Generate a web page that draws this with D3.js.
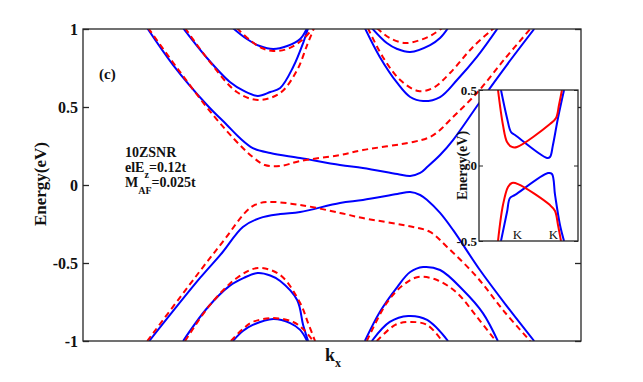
<!DOCTYPE html>
<meta charset="utf-8">
<script src="https://d3js.org/d3.v7.min.js"></script>
<style>
  body { margin: 0; background: #fff; }
  svg text { font-family: "Liberation Serif", "Times New Roman", serif; }
</style>
<div id="chart"></div>
<script>

// ---- main panel: [kx, E] pairs, kx on a 0..1 scale ----
var blueEdgeUp = [[0.129,1.006],[0.181,0.769],[0.249,0.513],[0.289,0.385],[0.315,0.301],[0.341,0.237],[0.376,0.205],[0.436,0.173],[0.516,0.128],[0.562,0.109],[0.631,0.071],[0.657,0.058],[0.677,0.077],[0.691,0.115],[0.717,0.192],[0.743,0.288],[0.797,0.532],[0.851,0.769],[0.906,1.0]];
var redEdgeUp  = [[0.131,1.006],[0.189,0.750],[0.261,0.449],[0.315,0.256],[0.341,0.179],[0.365,0.128],[0.396,0.122],[0.436,0.154],[0.516,0.192],[0.562,0.224],[0.663,0.276],[0.697,0.308],[0.717,0.353],[0.737,0.417],[0.791,0.590],[0.845,0.801],[0.898,1.0]];
var blueEdgeDn = [[0.133,-1.0],[0.235,-0.596],[0.279,-0.436],[0.321,-0.269],[0.355,-0.212],[0.396,-0.186],[0.436,-0.173],[0.516,-0.115],[0.562,-0.096],[0.631,-0.058],[0.657,-0.045],[0.677,-0.064],[0.691,-0.096],[0.717,-0.179],[0.743,-0.288],[0.797,-0.545],[0.851,-0.776],[0.906,-1.0]];
var redEdgeDn  = [[0.129,-1.0],[0.241,-0.526],[0.285,-0.346],[0.325,-0.179],[0.345,-0.128],[0.369,-0.109],[0.436,-0.128],[0.516,-0.179],[0.562,-0.212],[0.663,-0.269],[0.697,-0.301],[0.731,-0.397],[0.791,-0.590],[0.845,-0.808],[0.898,-1.0]];

// left valley
var blueC2L = [[0.201,1.006],[0.249,0.814],[0.295,0.660],[0.323,0.603],[0.351,0.571],[0.376,0.596],[0.396,0.622],[0.422,0.756],[0.442,0.910],[0.452,1.006]];
var redC2L  = [[0.205,1.006],[0.255,0.788],[0.309,0.596],[0.351,0.545],[0.396,0.590],[0.430,0.737],[0.450,0.897],[0.464,1.006]];
var blueC3L = [[0.301,1.006],[0.329,0.936],[0.355,0.891],[0.382,0.872],[0.410,0.891],[0.436,0.936],[0.450,1.006]];
var redC3L  = [[0.309,1.006],[0.335,0.929],[0.359,0.878],[0.382,0.859],[0.410,0.872],[0.440,0.929],[0.462,1.006]];
var blueV2L = [[0.201,-1.0],[0.249,-0.790],[0.295,-0.645],[0.323,-0.595],[0.351,-0.564],[0.376,-0.580],[0.396,-0.615],[0.430,-0.737],[0.442,-0.897],[0.452,-1.0]];
var redV2L  = [[0.205,-1.0],[0.255,-0.769],[0.309,-0.596],[0.351,-0.532],[0.396,-0.577],[0.436,-0.756],[0.452,-0.885],[0.466,-1.0]];
var blueV3L = [[0.301,-1.0],[0.321,-0.936],[0.341,-0.897],[0.382,-0.859],[0.416,-0.885],[0.436,-0.929],[0.450,-1.0]];
var redV3L  = [[0.297,-1.0],[0.321,-0.923],[0.341,-0.878],[0.382,-0.853],[0.422,-0.878],[0.442,-0.923],[0.462,-1.0]];

// right valley
var blueC2R = [[0.566,1.006],[0.596,0.821],[0.631,0.654],[0.657,0.564],[0.683,0.538],[0.717,0.564],[0.751,0.673],[0.791,0.821],[0.833,1.006]];
var redC2R  = [[0.572,1.006],[0.602,0.821],[0.637,0.673],[0.673,0.603],[0.703,0.622],[0.737,0.718],[0.783,0.885],[0.825,1.006]];
var blueC3R = [[0.580,1.006],[0.610,0.910],[0.631,0.872],[0.657,0.853],[0.697,0.897],[0.717,0.942],[0.733,1.006]];
var redC3R  = [[0.590,1.006],[0.616,0.942],[0.647,0.910],[0.677,0.929],[0.701,0.962],[0.721,1.006]];
var blueV2R = [[0.566,-1.0],[0.596,-0.814],[0.631,-0.654],[0.657,-0.558],[0.683,-0.526],[0.717,-0.545],[0.763,-0.673],[0.803,-0.821],[0.833,-1.0]];
var redV2R  = [[0.570,-1.0],[0.610,-0.756],[0.643,-0.641],[0.673,-0.590],[0.711,-0.609],[0.751,-0.692],[0.791,-0.846],[0.829,-1.0]];
var blueV3R = [[0.580,-1.0],[0.616,-0.878],[0.653,-0.840],[0.691,-0.865],[0.733,-1.0]];
var redV3R  = [[0.590,-1.0],[0.627,-0.897],[0.657,-0.878],[0.691,-0.897],[0.721,-1.0]];

// ---- inset ----
var insetRedUp  = [[0.192,0.5],[0.242,0.268],[0.283,0.156],[0.333,0.123],[0.384,0.123],[0.717,0.275],[0.778,0.315],[0.808,0.401],[0.838,0.5]];
var insetBlueUp = [[0.222,0.5],[0.283,0.315],[0.323,0.222],[0.364,0.202],[0.687,0.050],[0.717,0.056],[0.747,0.136],[0.798,0.315],[0.859,0.5]];
var insetRedDn  = [[0.192,-0.5],[0.242,-0.262],[0.293,-0.142],[0.333,-0.116],[0.394,-0.123],[0.717,-0.262],[0.768,-0.301],[0.798,-0.394],[0.828,-0.5]];
var insetBlueDn = [[0.222,-0.5],[0.283,-0.308],[0.313,-0.215],[0.364,-0.195],[0.697,-0.050],[0.737,-0.056],[0.768,-0.195],[0.818,-0.394],[0.859,-0.5]];

var yTicks = [1, 0.5, 0, -0.5, -1];
var yTickLabels = ["1", "0.5", "0", "-0.5", "-1"];
var insetTicks = [0.5, 0, -0.5];
var insetTickLabels = ["0.5", "0", "-0.5"];
var kTicks = [0.384, 0.747];
var kTickLabels = ["K", "K"];

var blueBands = [blueEdgeUp, blueEdgeDn, blueC2L, blueC3L, blueV2L, blueV3L, blueC2R, blueC3R, blueV2R, blueV3R];
var redBands  = [redEdgeUp, redEdgeDn, redC2L, redC3L, redV2L, redV3L, redC2R, redC3R, redV2R, redV3R];

var serif = "Liberation Serif";

var margin = {top: 29, right: 62, bottom: 41, left: 83},
    width = 643 - margin.left - margin.right,
    height = 382 - margin.top - margin.bottom;

var svg = d3.select("#chart")
  .append("svg")
    .attr("width", 643)
    .attr("height", 382)
    .attr("font-family", serif)
  .append("g")
    .attr("transform", "translate(" + margin.left + "," + margin.top + ")");

var x = d3.scaleLinear().domain([0, 1]).range([0, width]);
var y = d3.scaleLinear().domain([-1, 1]).range([height, 0]);

svg.append("clipPath").attr("id", "clipMain")
  .append("rect").attr("width", width).attr("height", height);

var line = d3.line()
  .x(function(d) { return x(d[0]); })
  .y(function(d) { return y(d[1]); })
  .curve(d3.curveCatmullRom.alpha(0.5));

var plot = svg.append("g").attr("clip-path", "url(#clipMain)");

plot.selectAll(".blue")
  .data(blueBands)
  .enter().append("path")
    .attr("d", line)
    .attr("fill", "none")
    .attr("stroke", "#0000ff")
    .attr("stroke-width", 2);

plot.selectAll(".red")
  .data(redBands)
  .enter().append("path")
    .attr("d", line)
    .attr("fill", "none")
    .attr("stroke", "#ff0000")
    .attr("stroke-width", 2)
    .attr("stroke-dasharray", "6,4");

// box + ticks
var axisColor = "#262626";
svg.append("rect")
  .attr("width", width).attr("height", height)
  .attr("fill", "none").attr("stroke", axisColor).attr("stroke-width", 1.3);

svg.append("g")
  .call(d3.axisLeft(y).tickValues(yTicks).tickSize(-6).tickFormat(function(d, i) { return yTickLabels[i]; }))
  .call(function(g) {
    g.attr("font-family", serif);
    g.select(".domain").remove();
    g.selectAll("line").attr("stroke", axisColor).attr("stroke-width", 1.3);
    g.selectAll("text")
      .attr("x", -5)
      .attr("fill", "#111")
      .style("font-weight", "bold")
      .style("font-size", "16px");
  });

svg.append("g")
  .attr("transform", "translate(" + width + ",0)")
  .call(d3.axisRight(y).tickValues(yTicks).tickSize(-6).tickFormat(""))
  .call(function(g) {
    g.select(".domain").remove();
    g.selectAll("line").attr("stroke", axisColor).attr("stroke-width", 1.3);
  });

// axis labels
svg.append("text")
  .attr("transform", "rotate(-90)")
  .attr("x", -height / 2 + 1)
  .attr("y", -37)
  .attr("text-anchor", "middle")
  .style("font-weight", "bold")
  .style("font-size", "17px")
  .attr("fill", "#111")
  .text("Energy(eV)");

var kx = svg.append("text")
  .attr("x", 242)
  .attr("y", 332)
  .style("font-weight", "bold")
  .style("font-size", "18px")
  .attr("fill", "#111");
kx.append("tspan").text("k");
kx.append("tspan").attr("dy", 6).style("font-size", "12px").text("x");

svg.append("text")
  .attr("x", 16).attr("y", 50)
  .style("font-weight", "bold").style("font-size", "15px")
  .attr("fill", "#111")
  .text("(c)");

// annotation
var note = svg.append("g").attr("transform", "translate(42,0)")
  .style("font-weight", "bold").style("font-size", "14px").attr("fill", "#111");
note.append("text").attr("y", 128).text("10ZSNR");
var t2 = note.append("text").attr("y", 143);
t2.append("tspan").text("elE");
t2.append("tspan").attr("dy", 6).style("font-size", "10px").text("z");
t2.append("tspan").attr("dy", -6).text("=0.12t");
var t3 = note.append("text").attr("y", 158);
t3.append("tspan").text("M");
t3.append("tspan").attr("dy", 7).style("font-size", "10px").text("AF");
t3.append("tspan").attr("dy", -7).text("=0.025t");

// ---- inset ----
var inL = 479 - margin.left, inT = 90 - margin.top, inW = 99, inH = 151;
var inset = svg.append("g").attr("transform", "translate(" + inL + "," + inT + ")");
var xi = d3.scaleLinear().domain([0, 1]).range([0, inW]);
var yi = d3.scaleLinear().domain([-0.5, 0.5]).range([inH, 0]);

inset.append("rect").attr("width", inW).attr("height", inH).attr("fill", "#fff");
inset.append("clipPath").attr("id", "clipInset")
  .append("rect").attr("width", inW).attr("height", inH);

var lineI = d3.line()
  .x(function(d) { return xi(d[0]); })
  .y(function(d) { return yi(d[1]); })
  .curve(d3.curveCatmullRom.alpha(0.5));

var ip = inset.append("g").attr("clip-path", "url(#clipInset)");
[insetBlueUp, insetBlueDn].forEach(function(b) {
  ip.append("path").datum(b).attr("d", lineI)
    .attr("fill", "none").attr("stroke", "#0000ff").attr("stroke-width", 2);
});
[insetRedUp, insetRedDn].forEach(function(b) {
  ip.append("path").datum(b).attr("d", lineI)
    .attr("fill", "none").attr("stroke", "#ff0000").attr("stroke-width", 2);
});

inset.append("rect").attr("width", inW).attr("height", inH)
  .attr("fill", "none").attr("stroke", axisColor).attr("stroke-width", 1.3);

inset.append("g")
  .call(d3.axisLeft(yi).tickValues(insetTicks).tickSize(-4).tickFormat(function(d, i) { return insetTickLabels[i]; }))
  .call(function(g) {
    g.attr("font-family", serif);
    g.select(".domain").remove();
    g.selectAll("line").attr("stroke", axisColor);
    g.selectAll("text")
      .attr("x", -2)
      .attr("fill", "#111")
      .style("font-weight", "bold")
      .style("font-size", "13px");
  });

inset.append("g")
  .attr("transform", "translate(" + inW + ",0)")
  .call(d3.axisRight(yi).tickValues(insetTicks).tickSize(-4).tickFormat(""))
  .call(function(g) {
    g.select(".domain").remove();
    g.selectAll("line").attr("stroke", axisColor);
  });

inset.append("g")
  .attr("transform", "translate(0," + inH + ")")
  .call(d3.axisTop(xi).tickValues(kTicks).tickSize(0).tickFormat(function(d, i) { return kTickLabels[i]; }))
  .call(function(g) {
    g.attr("font-family", serif);
    g.select(".domain").remove();
    g.selectAll("text")
      .attr("y", -2)
      .attr("fill", "#111")
      .style("font-size", "13px");
  });

inset.append("text")
  .attr("transform", "rotate(-90)")
  .attr("x", -inH / 2)
  .attr("y", -12)
  .attr("text-anchor", "middle")
  .style("font-weight", "bold")
  .style("font-size", "14px")
  .attr("fill", "#111")
  .text("Energy(eV)");

</script>
